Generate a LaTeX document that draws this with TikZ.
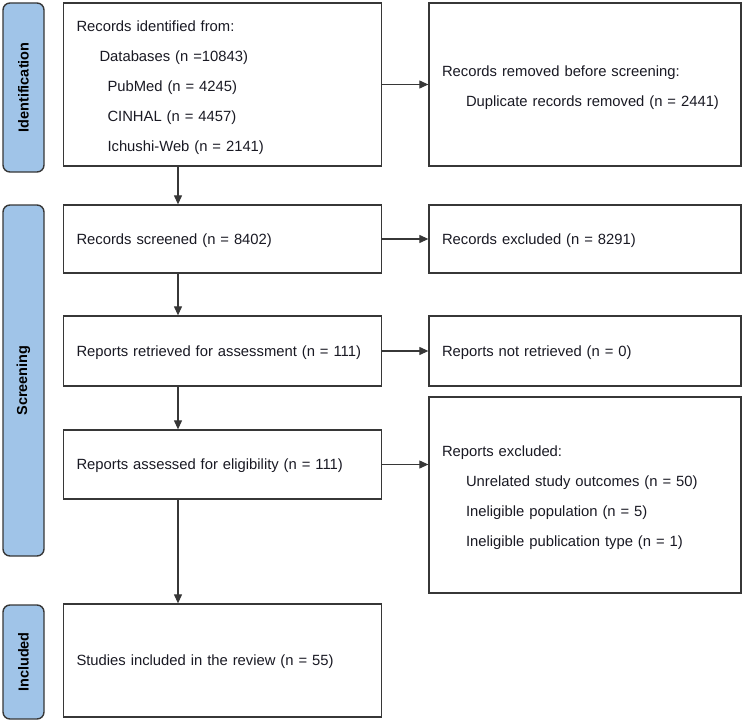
\documentclass[tikz,border=0pt]{standalone}
\usepackage{fontspec}
\setmainfont{Liberation Sans}
\usepackage{tikz}
\usetikzlibrary{arrows.meta,positioning,calc}
\definecolor{clrPhase}{RGB}{160,196,232}
\definecolor{clrEdge}{RGB}{55,55,55}
\definecolor{clrTxt}{RGB}{25,25,35}

\begin{document}
\begin{tikzpicture}[x=1pt,y=-1pt,
    phase/.style={draw=clrEdge,fill=clrPhase,line width=1.4pt,rounded corners=7pt,
      minimum width=41pt,inner sep=0pt,font=\fontsize{14.5}{16}\selectfont\bfseries},
    boxL/.style={draw=clrEdge,line width=1.3pt,align=left,inner xsep=13pt,inner ysep=0pt,
      text width=292pt,text=clrTxt,font=\fontsize{14.8}{30}\selectfont,
      execute at end node={\endgraf\vspace*{-6pt}}},
    boxR/.style={boxL,text width=286pt},
    arr/.style={-{Triangle[length=9pt,width=8pt]},line width=1.1pt,draw=clrEdge}]
  \useasboundingbox (0,0) rectangle (744,725);
  \def\colL{222.5} \def\colR{585}

  % --- phase labels ---
  \node[phase,minimum height=169pt] (idlab)  at (23.5,87.5)  {\rotatebox{90}{Identification}};
  \node[phase,minimum height=351pt] (scrlab) at (23.5,380.5) {\rotatebox{90}{Screening}};
  \node[phase,minimum height=114pt] (inclab) at (23.5,662)   {\rotatebox{90}{Included}};

  % --- left column ---
  \node[boxL,minimum height=163pt] (ident) at (\colL,84.5)
    {Records identified from:\\
     \hspace*{23pt}Databases (n =10843)\\
     \hspace*{31pt}PubMed (n = 4245)\\
     \hspace*{31pt}CINHAL (n = 4457)\\
     \hspace*{31pt}Ichushi-Web (n = 2141)};
  \node[boxL,minimum height=68pt] (screened)  at (\colL,239)   {Records screened (n = 8402)};
  \node[boxL,minimum height=70pt] (retrieved) at (\colL,351)   {Reports retrieved for assessment (n = 111)};
  \node[boxL,minimum height=69pt] (assessed)  at (\colL,464.5) {Reports assessed for eligibility (n = 111)};
  \node[boxL,minimum height=113pt] (studies)  at (\colL,660.5) {Studies included in the review (n = 55)};

  % --- right column ---
  \node[boxR,minimum height=163pt] (removed) at (\colR,84.5)
    {Records removed before screening:\\
     \hspace*{24pt}Duplicate records removed (n = 2441)};
  \node[boxR,minimum height=68pt] (excl)   at (\colR,239) {Records excluded (n = 8291)};
  \node[boxR,minimum height=70pt] (notret) at (\colR,351) {Reports not retrieved (n = 0)};
  \node[boxR,minimum height=196pt] (repexcl) at (\colR,495)
    {Reports excluded:\\
     \hspace*{24pt}Unrelated study outcomes (n = 50)\\
     \hspace*{24pt}Ineligible population (n = 5)\\
     \hspace*{24pt}Ineligible publication type (n = 1)};

  % --- connectors ---
  \coordinate (spine) at (178,0);
  \draw[arr] (ident.south -| spine) -- (screened.north -| spine);
  \draw[arr] (screened.south -| spine) -- (retrieved.north -| spine);
  \draw[arr] (retrieved.south -| spine) -- (assessed.north -| spine);
  \draw[arr] (assessed.south -| spine) -- (studies.north -| spine);

  \draw[arr] (ident.east) -- (ident.east -| removed.west);
  \draw[arr] (screened.east) -- (excl.west);
  \draw[arr] (retrieved.east) -- (notret.west);
  \draw[arr] (assessed.east) -- (assessed.east -| repexcl.west);
\end{tikzpicture}
\end{document}
